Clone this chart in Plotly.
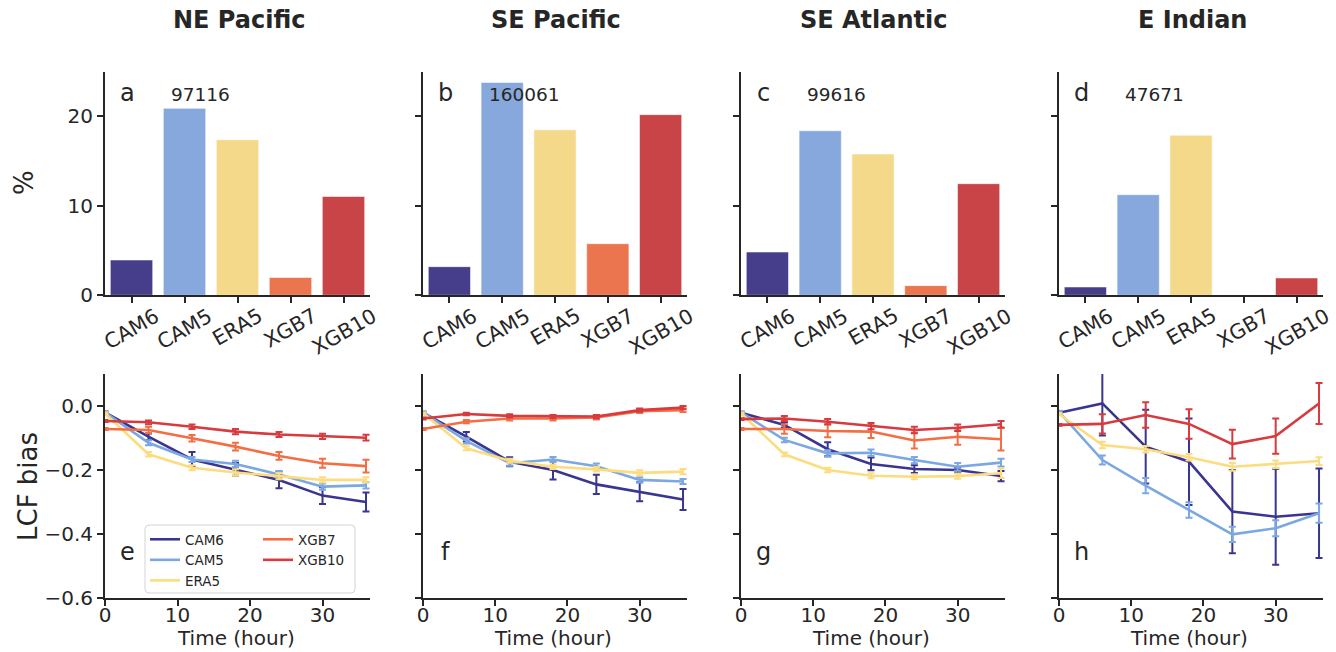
import plotly.graph_objects as go

# ---------------- data ----------------
regions = ["NE Pacific", "SE Pacific", "SE Atlantic", "E Indian"]
models = ["CAM6", "CAM5", "ERA5", "XGB7", "XGB10"]
sample_counts = ["97116", "160061", "99616", "47671"]
top_letters = ["a", "b", "c", "d"]
bottom_letters = ["e", "f", "g", "h"]
hours = [0, 6, 12, 18, 24, 30, 36]

pct_ne_pacific = [3.95, 20.9, 17.4, 2.0, 11.05]
pct_se_pacific = [3.2, 23.8, 18.5, 5.77, 20.2]
pct_se_atlantic = [4.84, 18.4, 15.8, 1.08, 12.48]
pct_e_indian = [0.93, 11.25, 17.9, 0.0, 1.94]

# NE Pacific
ne_cam6 = [-0.020, -0.096, -0.167, -0.198, -0.231, -0.280, -0.300]
ne_cam6_err = [0.003, 0.010, 0.023, 0.020, 0.026, 0.026, 0.030]
ne_cam5 = [-0.020, -0.115, -0.167, -0.181, -0.214, -0.252, -0.248]
ne_cam5_err = [0.003, 0.008, 0.008, 0.010, 0.010, 0.010, 0.010]
ne_era5 = [-0.023, -0.151, -0.193, -0.208, -0.219, -0.231, -0.231]
ne_era5_err = [0.003, 0.007, 0.008, 0.010, 0.010, 0.008, 0.008]
ne_xgb7 = [-0.072, -0.075, -0.101, -0.127, -0.156, -0.179, -0.188]
ne_xgb7_err = [0.003, 0.010, 0.010, 0.012, 0.012, 0.014, 0.020]
ne_xgb10 = [-0.047, -0.051, -0.065, -0.080, -0.089, -0.095, -0.099]
ne_xgb10_err = [0.003, 0.006, 0.007, 0.008, 0.008, 0.008, 0.009]

# SE Pacific
sp_cam6 = [-0.021, -0.096, -0.174, -0.200, -0.245, -0.268, -0.292]
sp_cam6_err = [0.003, 0.015, 0.014, 0.030, 0.030, 0.030, 0.033]
sp_cam5 = [-0.020, -0.109, -0.179, -0.167, -0.188, -0.231, -0.236]
sp_cam5_err = [0.003, 0.008, 0.008, 0.008, 0.008, 0.008, 0.008]
sp_era5 = [-0.023, -0.132, -0.171, -0.190, -0.198, -0.209, -0.205]
sp_era5_err = [0.003, 0.006, 0.006, 0.007, 0.007, 0.008, 0.008]
sp_xgb7 = [-0.072, -0.049, -0.039, -0.039, -0.036, -0.016, -0.013]
sp_xgb7_err = [0.003, 0.005, 0.006, 0.006, 0.006, 0.006, 0.006]
sp_xgb10 = [-0.039, -0.025, -0.031, -0.033, -0.033, -0.013, -0.005]
sp_xgb10_err = [0.003, 0.004, 0.005, 0.005, 0.005, 0.005, 0.005]

# SE Atlantic
sa_cam6 = [-0.021, -0.059, -0.135, -0.181, -0.197, -0.200, -0.219]
sa_cam6_err = [0.003, 0.008, 0.022, 0.020, 0.012, 0.008, 0.016]
sa_cam5 = [-0.020, -0.106, -0.148, -0.146, -0.169, -0.190, -0.177]
sa_cam5_err = [0.003, 0.007, 0.010, 0.010, 0.010, 0.012, 0.012]
sa_era5 = [-0.023, -0.151, -0.200, -0.218, -0.221, -0.219, -0.210]
sa_era5_err = [0.003, 0.006, 0.007, 0.008, 0.008, 0.008, 0.015]
sa_xgb7 = [-0.072, -0.072, -0.078, -0.080, -0.108, -0.096, -0.104]
sa_xgb7_err = [0.003, 0.015, 0.020, 0.020, 0.025, 0.025, 0.035]
sa_xgb10 = [-0.041, -0.039, -0.049, -0.063, -0.075, -0.068, -0.057]
sa_xgb10_err = [0.003, 0.008, 0.008, 0.010, 0.010, 0.010, 0.010]

# E Indian (no XGB7 data)
ei_cam6 = [-0.021, 0.008, -0.127, -0.174, -0.330, -0.346, -0.335]
ei_cam6_err = [0.003, 0.100, 0.115, 0.135, 0.130, 0.150, 0.140]
ei_cam5 = [-0.018, -0.169, -0.249, -0.325, -0.401, -0.382, -0.335]
ei_cam5_err = [0.003, 0.014, 0.024, 0.024, 0.024, 0.025, 0.030]
ei_era5 = [-0.025, -0.122, -0.135, -0.160, -0.190, -0.182, -0.172]
ei_era5_err = [0.003, 0.010, 0.010, 0.010, 0.012, 0.012, 0.012]
ei_xgb7 = None
ei_xgb7_err = None
ei_xgb10 = [-0.059, -0.056, -0.028, -0.056, -0.119, -0.094, 0.008]
ei_xgb10_err = [0.003, 0.030, 0.040, 0.046, 0.045, 0.055, 0.064]

bar_tick_vals = [0, 10, 20]
bias_tick_vals = [0.0, -0.2, -0.4, -0.6]
time_tick_vals = [0, 10, 20, 30]

# ---------------- assembling ----------------
pct_by_region = [pct_ne_pacific, pct_se_pacific, pct_se_atlantic, pct_e_indian]
bias_by_region = [
    [(ne_cam6, ne_cam6_err), (ne_cam5, ne_cam5_err), (ne_era5, ne_era5_err), (ne_xgb7, ne_xgb7_err), (ne_xgb10, ne_xgb10_err)],
    [(sp_cam6, sp_cam6_err), (sp_cam5, sp_cam5_err), (sp_era5, sp_era5_err), (sp_xgb7, sp_xgb7_err), (sp_xgb10, sp_xgb10_err)],
    [(sa_cam6, sa_cam6_err), (sa_cam5, sa_cam5_err), (sa_era5, sa_era5_err), (sa_xgb7, sa_xgb7_err), (sa_xgb10, sa_xgb10_err)],
    [(ei_cam6, ei_cam6_err), (ei_cam5, ei_cam5_err), (ei_era5, ei_era5_err), (ei_xgb7, ei_xgb7_err), (ei_xgb10, ei_xgb10_err)],
]

bar_colors = ["#463d8b", "#87a8dc", "#f4d98a", "#ea754e", "#c94446"]
line_colors = ["#3a3590", "#7ba7e3", "#fddc7f", "#f46d43", "#d73a3f"]

W, H = 1336, 652
TXT = "#262626"
FONT = "DejaVu Sans"


def px(x):
    return x / W


def py(y):
    return 1 - y / H


col_x = [(105, 370), (423, 687), (741, 1005), (1059, 1323)]
top_y = (71.7, 295.3)
bot_y = (374, 598)

fig = go.Figure()

# bars
for i in range(4):
    fig.add_trace(go.Bar(
        x=models, y=pct_by_region[i], width=0.8,
        marker=dict(color=bar_colors, line=dict(color="rgba(255,255,255,0.55)", width=1)),
        xaxis=f"x{i+1}", yaxis=f"y{i+1}", showlegend=False, hoverinfo="x+y",
    ))

# lines
for i in range(4):
    for m, (vals, errs) in enumerate(bias_by_region[i]):
        if vals is None:
            continue
        leg = "legend" if m < 3 else "legend2"
        fig.add_trace(go.Scatter(
            x=hours, y=vals, mode="lines", name=models[m],
            line=dict(color=line_colors[m], width=2.6),
            error_y=dict(type="data", array=errs, visible=True, color=line_colors[m],
                         thickness=2, width=3.5),
            xaxis=f"x{i+5}", yaxis=f"y{i+5}",
            showlegend=(i == 0), legend=leg, legendrank=m,
        ))

axis_common = dict(
    showline=True, linecolor=TXT, linewidth=2, mirror=False,
    ticks="outside", ticklen=6, tickwidth=1.8, tickcolor=TXT,
    showgrid=False, zeroline=False,
    tickfont=dict(family=FONT, size=20, color=TXT),
)

layout = dict(
    width=W, height=H, margin=dict(l=0, r=0, t=0, b=0, autoexpand=False),
    paper_bgcolor="white", plot_bgcolor="white",
    font=dict(family=FONT, color=TXT),
    bargap=0.2,
)

for i in range(4):
    x0, x1 = col_x[i]
    # top bar axes
    layout[f"xaxis{i+1}"] = dict(axis_common, domain=[px(x0), px(x1)], anchor=f"y{i+1}",
                                 type="category", range=[-0.5, 4.5], showticklabels=False)
    layout[f"yaxis{i+1}"] = dict(axis_common, domain=[py(top_y[1]), py(top_y[0])], anchor=f"x{i+1}",
                                 range=[0, 25], tickvals=bar_tick_vals, showticklabels=(i == 0))
    # bottom line axes
    layout[f"xaxis{i+5}"] = dict(axis_common, domain=[px(x0), px(x1)], anchor=f"y{i+5}",
                                 range=[0, 36.55], tickvals=time_tick_vals, ticklabelstandoff=-8)
    layout[f"yaxis{i+5}"] = dict(axis_common, domain=[py(bot_y[1]), py(bot_y[0])], anchor=f"x{i+5}",
                                 range=[-0.6, 0.1], tickvals=bias_tick_vals, tickformat=".1f",
                                 showticklabels=(i == 0))

layout["legend"] = dict(x=px(145), y=py(524), xanchor="left", yanchor="top",
                        bgcolor="rgba(0,0,0,0)", borderwidth=0,
                        font=dict(family=FONT, size=13.5, color=TXT), tracegroupgap=0)
layout["legend2"] = dict(x=px(258), y=py(524), xanchor="left", yanchor="top",
                         bgcolor="rgba(0,0,0,0)", borderwidth=0,
                         font=dict(family=FONT, size=13.5, color=TXT), tracegroupgap=0)

fig.update_layout(**layout)

# legend frame (rounded)
lx0, lx1, ly0, ly1, r = 145, 355, 525, 593, 4
path = (f"M {px(lx0 + r)} {py(ly0)} L {px(lx1 - r)} {py(ly0)} "
        f"Q {px(lx1)} {py(ly0)} {px(lx1)} {py(ly0 + r)} L {px(lx1)} {py(ly1 - r)} "
        f"Q {px(lx1)} {py(ly1)} {px(lx1 - r)} {py(ly1)} L {px(lx0 + r)} {py(ly1)} "
        f"Q {px(lx0)} {py(ly1)} {px(lx0)} {py(ly1 - r)} L {px(lx0)} {py(ly0 + r)} "
        f"Q {px(lx0)} {py(ly0)} {px(lx0 + r)} {py(ly0)} Z")
fig.add_shape(type="path", path=path, xref="paper", yref="paper",
              line=dict(color="#d4d4d4", width=1), fillcolor="rgba(255,255,255,0.8)", layer="above")

ann = []
for i in range(4):
    x0, x1 = col_x[i]
    cx = (x0 + x1) / 2
    # region title
    ann.append(dict(x=px(cx + 1), y=py(20), xref="paper", yref="paper", text=regions[i],
                    showarrow=False, xanchor="center", yanchor="middle",
                    font=dict(family=FONT, size=24, color=TXT, weight="bold")))
    # panel letters
    ann.append(dict(x=px(x0 + 22), y=py(92.5), xref="paper", yref="paper", text=top_letters[i],
                    showarrow=False, xanchor="center", yanchor="middle",
                    font=dict(family=FONT, size=24, color=TXT)))
    ann.append(dict(x=px(x0 + 22), y=py(551.5), xref="paper", yref="paper", text=bottom_letters[i],
                    showarrow=False, xanchor="center", yanchor="middle",
                    font=dict(family=FONT, size=24, color=TXT)))
    # sample counts
    ann.append(dict(x=px(x0 + 64), y=py(94), xref="paper", yref="paper", text=sample_counts[i],
                    showarrow=False, xanchor="left", yanchor="middle",
                    font=dict(family=FONT, size=18.5, color=TXT)))
    # category tick labels (rotated, centred on tick)
    for m in models:
        ann.append(dict(x=m, y=py(301), xref=f"x{i+1}", yref="paper", text=m,
                        showarrow=False, xanchor="center", yanchor="top", textangle=-30,
                        font=dict(family=FONT, size=20.5, color=TXT)))
    # x titles
    ann.append(dict(x=px(cx - 2), y=py(638), xref="paper", yref="paper", text="Time (hour)",
                    showarrow=False, xanchor="center", yanchor="middle",
                    font=dict(family=FONT, size=20, color=TXT)))

# y titles
ann.append(dict(x=px(24), y=py(183), xref="paper", yref="paper", text="%", textangle=-90,
                showarrow=False, xanchor="center", yanchor="middle",
                font=dict(family=FONT, size=26, color=TXT)))
ann.append(dict(x=px(28), y=py(487), xref="paper", yref="paper", text="LCF bias", textangle=-90,
                showarrow=False, xanchor="center", yanchor="middle",
                font=dict(family=FONT, size=26, color=TXT)))

fig.update_layout(annotations=ann)

fig.write_html("out.html", post_script="document.body.style.margin='0px';",
               config={"displayModeBar": False})
